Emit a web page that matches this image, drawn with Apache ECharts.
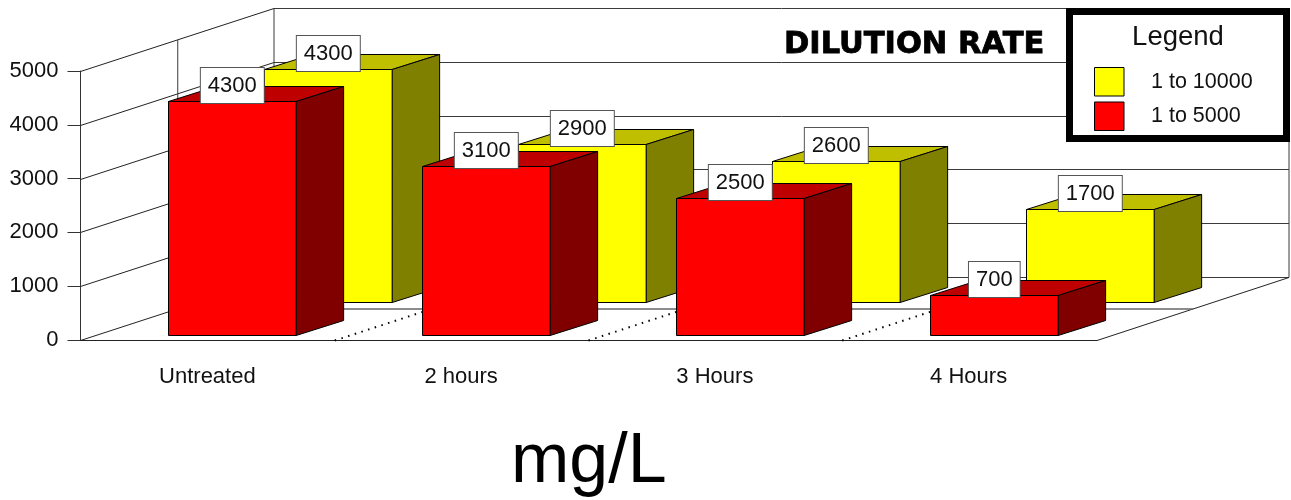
<!DOCTYPE html>
<html>
<head>
<meta charset="utf-8">
<style>html,body{margin:0;padding:0;background:#fff}#chart{width:1291px;height:500px}</style>
<script src="https://cdn.jsdelivr.net/npm/echarts@6/dist/echarts.min.js"></script>
</head>
<body>
<div id="chart"></div>
<script>
const categories = ['Untreated', '2 hours', '3 Hours', '4 Hours'];
const yTicks = [0, 1000, 2000, 3000, 4000, 5000];
const dilution10000 = [4300, 2900, 2600, 1700];
const dilution5000 = [4300, 3100, 2500, 700];
const seriesNames = ['1 to 10000', '1 to 5000'];

const FONT = '"Liberation Sans", Arial, sans-serif';
const INK = '#111';
const GRID = '#3a3a3a';
const DEPTH = [193.5, -63];

function line(x1, y1, x2, y2, style) {
  return { type: 'line', shape: { x1, y1, x2, y2 }, style: Object.assign({ stroke: GRID, lineWidth: 1 }, style) };
}

function wallItem(params, api) {
  const v = api.value(1);
  const p0 = api.coord([0, v]);
  const y = Math.round(p0[1]) + 0.5;
  const cw = api.size([1, 0])[0];
  const x0 = 80.5;
  const x1 = x0 + cw * 4 + 1.5;
  const backX = x0 + DEPTH[0], backY = y + DEPTH[1];
  const backRight = x1 + 192;
  const kids = [
    line(x0, y, backX, backY, { stroke: '#222' }),
    line(backX, backY, backRight, backY)
  ];
  if (v === 0) {
    kids.push(line(x0, y, x1, y, { stroke: '#222' }));
    kids.push(line(x1, y, backRight, backY, { stroke: '#222' }));
    kids.push(line(x0 + DEPTH[0] / 2, 309, x1 + 96, 309, { stroke: '#666', lineWidth: 1.5 }));
    for (let i = 1; i < categories.length; i++) {
      const bx = x0 + cw * i + 0.5;
      kids.push(line(bx, y, bx + DEPTH[0], backY, { stroke: '#000', lineWidth: 2, lineDash: [1.5, 5.5] }));
    }
  }
  if (v === 5000) {
    const floorY = api.coord([0, 0])[1] + 0.5;
    kids.push(line(backX, backY, backX, floorY + DEPTH[1]));
    kids.push(line(x0 + DEPTH[0] / 2 + 0.5, y + DEPTH[1] / 2, x0 + DEPTH[0] / 2 + 0.5, floorY + DEPTH[1] / 2));
    kids.push(line(backRight, backY, backRight, floorY + DEPTH[1]));
  }
  return { type: 'group', children: kids };
}

function barRenderer(opt) {
  return function (params, api) {
    const idx = api.value(0), val = api.value(1);
    const top = api.coord([idx, val]);
    const base = api.coord([idx, 0]);
    const cw = api.size([1, 0])[0];
    const w = cw * 0.503;
    const x = Math.round(top[0] + cw * opt.shift) + 0.5;
    const x2 = x + w;
    const y2 = Math.round(base[1] + opt.baseLift) + 0.5;
    const y1 = Math.round(top[1] + opt.topLift) + 0.5;
    const dx = 47.5, dy = -15;
    const edge = { stroke: '#000', lineWidth: 1, lineJoin: 'miter' };
    const poly = (points, fill) => ({ type: 'polygon', shape: { points }, style: Object.assign({ fill }, edge) });
    const kids = [
      poly([[x, y1], [x + dx, y1 + dy], [x2 + dx, y1 + dy], [x2, y1]], opt.top),
      poly([[x2, y1], [x2 + dx, y1 + dy], [x2 + dx, y2 + dy], [x2, y2]], opt.side),
      poly([[x, y1], [x2, y1], [x2, y2], [x, y2]], opt.front),
      {
        type: 'text',
        z2: 10,
        style: {
          x: x + w / 2,
          y: y1 + 1.5,
          text: String(val),
          align: 'center',
          verticalAlign: 'bottom',
          font: '22px ' + FONT,
          fill: INK,
          backgroundColor: '#fff',
          borderColor: '#555',
          borderWidth: 1,
          padding: [7, 7, 6, 7]
        }
      }
    ];
    return { type: 'group', children: kids };
  };
}

const chart = echarts.init(document.getElementById('chart'));
chart.setOption({
  animation: false,
  backgroundColor: '#fff',
  title: [
    {
      text: 'DILUTION RATE',
      left: 784,
      top: 30,
      padding: 0,
      textStyle: { fontFamily: '"DejaVu Sans", sans-serif', fontWeight: 'bold', fontSize: 30.5, color: '#000', textBorderColor: '#000', textBorderWidth: 0.8 }
    },
    {
      text: 'mg/L',
      left: 511,
      top: 428,
      padding: 0,
      textStyle: { fontFamily: FONT, fontWeight: 'normal', fontSize: 70, color: '#000' }
    }
  ],
  grid: { left: 80.5, top: 71, width: 1015, height: 269, containLabel: false },
  xAxis: {
    type: 'category',
    data: categories,
    boundaryGap: true,
    axisLine: { lineStyle: { color: '#222', width: 1 } },
    axisTick: { alignWithLabel: true, length: 14, lineStyle: { color: '#333' } },
    axisLabel: { fontFamily: FONT, fontSize: 22, color: INK, margin: 26 }
  },
  yAxis: {
    type: 'value',
    min: 0,
    max: 5000,
    interval: 1000,
    splitLine: { show: false },
    axisLine: { show: true, lineStyle: { color: '#333', width: 1 } },
    axisTick: { show: true, length: 13, lineStyle: { color: '#333' } },
    axisLabel: { fontFamily: FONT, fontSize: 22, color: INK, margin: 22, padding: [5, 0, 0, 0], formatter: v => String(v) }
  },
  legend: {
    data: seriesNames,
    orient: 'vertical',
    left: 1094,
    top: 67,
    padding: 0,
    itemWidth: 29.5,
    itemHeight: 28.5,
    itemGap: 5,
    icon: 'rect',
    selectedMode: false,
    z: 6,
    itemStyle: { borderColor: '#000', borderWidth: 1 },
    textStyle: { fontFamily: FONT, fontSize: 21.5, color: INK, padding: [0, 0, 0, 22] }
  },
  graphic: [
    { type: 'rect', z: 4, shape: { x: 1069.5, y: 11.5, width: 217, height: 127 }, style: { fill: '#fff', stroke: '#000', lineWidth: 7 } },
    { type: 'text', z: 7, style: { x: 1178, y: 37, text: 'Legend', align: 'center', verticalAlign: 'middle', font: '27.5px ' + FONT, fill: INK } }
  ],
  series: [
    {
      name: 'walls',
      type: 'custom',
      z: 1,
      silent: true,
      data: yTicks.map(v => [0, v]),
      encode: { x: 0, y: 1 },
      renderItem: wallItem
    },
    {
      name: seriesNames[0],
      type: 'custom',
      z: 2,
      itemStyle: { color: '#ffff00' },
      data: dilution10000.map((v, i) => [i, v]),
      encode: { x: 0, y: 1 },
      renderItem: barRenderer({ shift: 0.2246, baseLift: -38.5, topLift: -39.5, front: '#ffff00', top: '#bfbf00', side: '#808000' })
    },
    {
      name: seriesNames[1],
      type: 'custom',
      z: 3,
      itemStyle: { color: '#ff0000' },
      data: dilution5000.map((v, i) => [i, v]),
      encode: { x: 0, y: 1 },
      renderItem: barRenderer({ shift: -0.1537, baseLift: -5.5, topLift: -7.5, front: '#ff0000', top: '#bf0000', side: '#800000' })
    }
  ]
});
</script>
</body>
</html>
